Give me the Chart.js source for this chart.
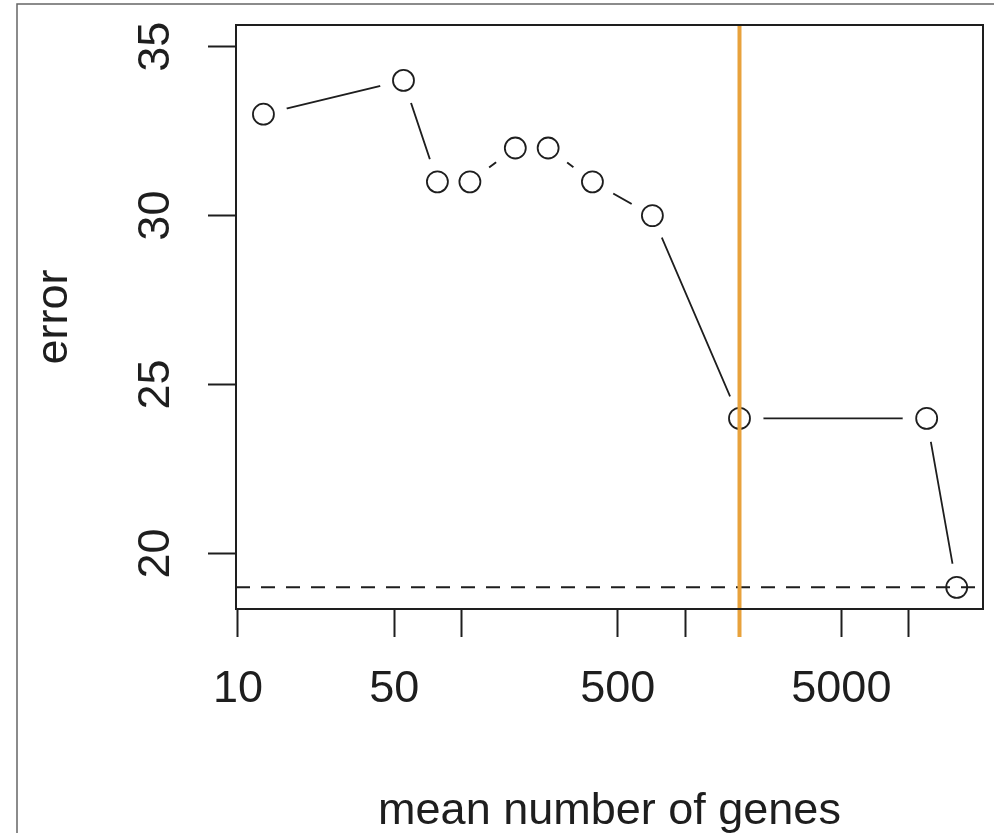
<!DOCTYPE html>
<html>
<head>
<meta charset="utf-8">
<script src="https://cdn.jsdelivr.net/npm/chart.js@4.4.1/dist/chart.umd.min.js"></script>
<style>
    html, body { margin: 0; padding: 0; background: #fff; }
    #wrap { width: 994px; height: 833px; }
</style>
</head>
<body>
<div id="wrap"><canvas id="myChart" width="994" height="833"></canvas></div>
<script>
// values
const meanGenes = [13, 55, 78, 109, 174, 244, 385, 714, 1751, 12037, 16400];
const errors = [33, 34, 31, 31, 32, 32, 31, 30, 24, 24, 19];
const xTicks = [10, 50, 100, 500, 1000, 5000, 10000];
const xTickLabels = ['10', '50', '', '500', '', '5000', ''];
const yTicks = [20, 25, 30, 35];
const chosenGenes = 1751;   // orange vertical line
const minError = 19;        // dashed horizontal line

const FONT = "'Liberation Sans', Arial, Helvetica, sans-serif";
const INK = '#1e1e1e';
Chart.defaults.font.family = FONT;

const points = meanGenes.map((g, i) => ({ x: g, y: errors[i] }));

const rPlot = {
    id: 'rPlot',
    afterDatasetsDraw(chart) {
        const { ctx, chartArea: a, scales: { x, y } } = chart;
        ctx.save();
        // abline(h = min error, lty = 2)
        const yy = y.getPixelForValue(minError);
        ctx.strokeStyle = INK;
        ctx.lineWidth = 2;
        ctx.setLineDash([14, 11]);
        ctx.beginPath();
        ctx.moveTo(a.left, yy);
        ctx.lineTo(a.right, yy);
        ctx.stroke();
        ctx.setLineDash([]);
        // chosen number of genes
        const xx = x.getPixelForValue(chosenGenes);
        ctx.strokeStyle = '#E8A23C';
        ctx.lineWidth = 4;
        ctx.beginPath();
        ctx.moveTo(xx, a.top);
        ctx.lineTo(xx, a.bottom + 28);
        ctx.stroke();
        ctx.restore();
    },
    afterDraw(chart) {
        const { ctx, chartArea: a, scales: { y } } = chart;
        ctx.save();
        // box()
        ctx.strokeStyle = INK;
        ctx.lineWidth = 2;
        ctx.strokeRect(a.left, a.top, a.right - a.left, a.bottom - a.top);
        // outer frame of the picture
        ctx.strokeStyle = '#666';
        ctx.lineWidth = 1.5;
        ctx.beginPath();
        ctx.moveTo(17, 833);
        ctx.lineTo(17, 4);
        ctx.lineTo(994, 4);
        ctx.stroke();
        // y tick labels, rotated like R's las = 0
        ctx.fillStyle = INK;
        ctx.font = '45px ' + FONT;
        ctx.textAlign = 'center';
        ctx.textBaseline = 'middle';
        y.ticks.forEach(t => {
            ctx.save();
            ctx.translate(157, y.getPixelForValue(t.value));
            ctx.rotate(-Math.PI / 2);
            ctx.fillText(String(t.value), 0, 0);
            ctx.restore();
        });
        // axis titles
        ctx.textBaseline = 'alphabetic';
        ctx.save();
        ctx.translate(67, (a.top + a.bottom) / 2);
        ctx.rotate(-Math.PI / 2);
        ctx.fillText('error', 0, 0);
        ctx.restore();
        ctx.fillText('mean number of genes', (a.left + a.right) / 2, 824);
        ctx.restore();
    }
};

const ctx = document.getElementById('myChart');
const myChart = new Chart(ctx, {
    type: 'line',
    data: {
        datasets: [
            {
                // open circles (pch = 1), drawn on top
                data: points,
                showLine: false,
                pointRadius: 10.5,
                pointBorderWidth: 1.8,
                pointBorderColor: INK,
                pointBackgroundColor: 'rgba(0,0,0,0)',
                order: 1
            },
            {
                // connecting segments; white discs leave the gaps of type = "b"
                data: points,
                showLine: true,
                borderColor: INK,
                borderWidth: 1.8,
                pointRadius: 24,
                pointBorderWidth: 0,
                pointBackgroundColor: '#fff',
                pointBorderColor: '#fff',
                order: 2
            }
        ]
    },
    options: {
        responsive: false,
        animation: false,
        devicePixelRatio: 1,
        layout: { autoPadding: false, padding: { top: 25, right: 11, left: 0, bottom: 0 } },
        plugins: { legend: { display: false }, tooltip: { enabled: false } },
        scales: {
            x: {
                type: 'logarithmic',
                min: 9.8,
                max: 21500,
                afterBuildTicks: s => { s.ticks = xTicks.map(v => ({ value: v })); },
                afterFit: s => { s.height = 224; s.paddingLeft = 0; s.paddingRight = 0; },
                border: { display: false },
                grid: { drawOnChartArea: false, drawTicks: true, tickLength: 28, tickColor: INK, tickWidth: 2 },
                ticks: {
                    autoSkip: false,
                    maxRotation: 0,
                    minRotation: 0,
                    padding: 26,
                    color: INK,
                    font: { size: 45 },
                    callback: v => xTickLabels[xTicks.indexOf(v)] || ''
                }
            },
            y: {
                min: 18.36,
                max: 35.64,
                afterBuildTicks: s => { s.ticks = yTicks.map(v => ({ value: v })); },
                afterFit: s => { s.width = 236; s.paddingTop = 0; s.paddingBottom = 0; },
                border: { display: false },
                grid: { drawOnChartArea: false, drawTicks: true, tickLength: 28, tickColor: INK, tickWidth: 2 },
                ticks: { display: false }
            }
        }
    },
    plugins: [rPlot]
});
</script>
</body>
</html>
